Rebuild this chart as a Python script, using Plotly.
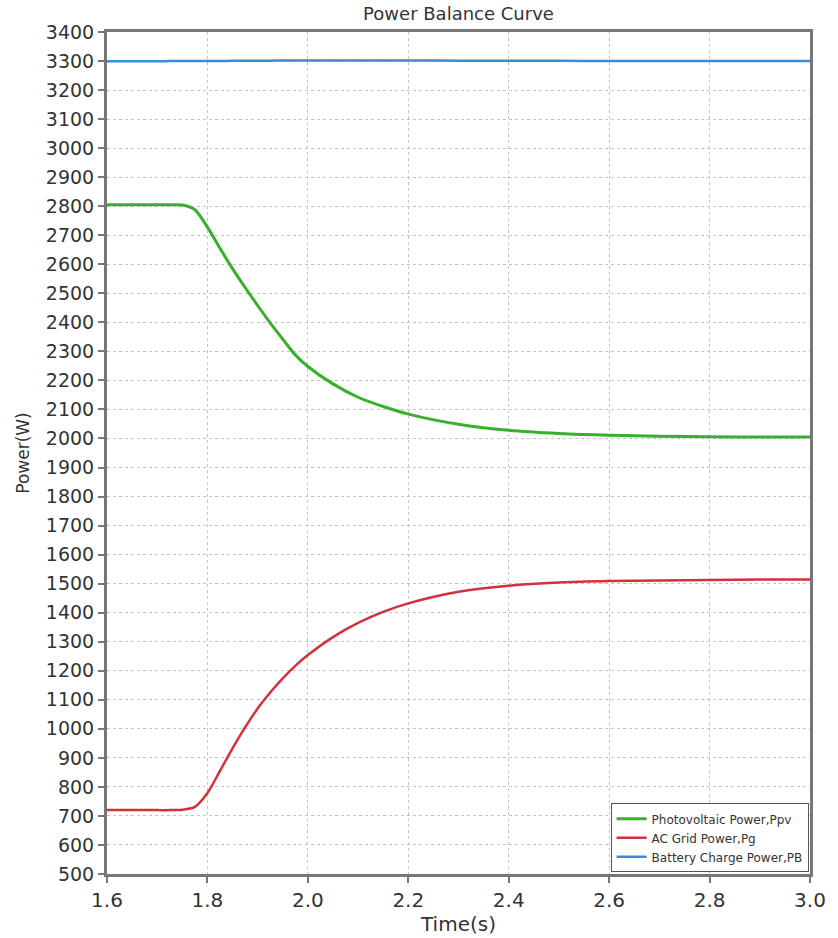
import plotly.graph_objects as go

# Simulation time (s)
time_s = [1.6, 1.7, 1.725, 1.75, 1.775, 1.8, 1.825, 1.85, 1.875, 1.9, 1.925, 1.95, 1.975,
          2.0, 2.05, 2.1, 2.15, 2.2, 2.3, 2.4, 2.5, 2.6, 2.7, 2.8, 2.9, 3.0]

# Photovoltaic power Ppv (W)
p_pv = [2805, 2805, 2805, 2804, 2788, 2728, 2655, 2585, 2520, 2458, 2398, 2342, 2288,
        2248, 2188, 2142, 2110, 2084, 2049, 2028, 2017, 2011, 2008, 2006, 2005, 2005]

# AC grid power Pg (W)
p_grid = [720, 720, 720, 721, 731, 779, 855, 933, 1005, 1070, 1125, 1174, 1217,
          1254, 1316, 1365, 1403, 1432, 1472, 1493, 1504, 1509, 1511, 1513, 1514, 1514]

# Battery charge power PB (W)
p_batt = [3299, 3299, 3300, 3300, 3300, 3300, 3300, 3301, 3301, 3301, 3301, 3302, 3302,
          3302, 3302, 3302, 3302, 3302, 3301, 3301, 3301, 3300, 3300, 3300, 3300, 3300]

x_ticks = [1.6, 1.8, 2.0, 2.2, 2.4, 2.6, 2.8, 3.0]
x_tick_labels = ["1.6", "1.8", "2.0", "2.2", "2.4", "2.6", "2.8", "3.0"]
y_ticks = list(range(500, 3401, 100))

font_family = "DejaVu Sans"
text_color = "#333333"
axis_color = "#777777"
grid_color = "#c4c4c4"

fig = go.Figure()
fig.add_trace(go.Scatter(x=time_s, y=p_pv, mode="lines", name="Photovoltaic Power,Ppv",
                         line=dict(color="#38b02c", width=3, shape="spline", smoothing=0.8)))
fig.add_trace(go.Scatter(x=time_s, y=p_grid, mode="lines", name="AC Grid Power,Pg",
                         line=dict(color="#d4303c", width=2.5, shape="spline", smoothing=0.8)))
fig.add_trace(go.Scatter(x=time_s, y=p_batt, mode="lines", name="Battery Charge Power,PB",
                         line=dict(color="#3a8ade", width=2.5, shape="spline", smoothing=0.8)))

fig.update_layout(
    width=838, height=938,
    margin=dict(l=107, r=18, t=32, b=52),
    paper_bgcolor="white", plot_bgcolor="white",
    font=dict(family=font_family, color=text_color),
    title=dict(text="Power Balance Curve", x=0.5, xref="paper", xanchor="center",
               y=0.985, yanchor="middle", font=dict(size=18, color=text_color)),
    showlegend=True,
    legend=dict(x=0.998, y=0.002, xanchor="right", yanchor="bottom",
                bgcolor="white", bordercolor="#555555", borderwidth=1,
                font=dict(size=12, color=text_color), tracegroupgap=0,
                itemwidth=30),
)

fig.update_xaxes(
    range=[1.6, 3.0], tickvals=x_ticks, ticktext=x_tick_labels,
    showgrid=True, gridcolor=grid_color, griddash="dot", gridwidth=1,
    showline=True, linecolor=axis_color, linewidth=3, mirror=True,
    ticks="outside", ticklen=6, tickcolor=axis_color, tickwidth=2,
    tickfont=dict(size=20, color=text_color),
    title=dict(text="Time(s)", font=dict(size=20, color=text_color), standoff=0),
    zeroline=False,
)
fig.update_yaxes(
    range=[500, 3400], tickvals=y_ticks,
    showgrid=True, gridcolor=grid_color, griddash="dot", gridwidth=1,
    showline=True, linecolor=axis_color, linewidth=3, mirror=True,
    ticks="outside", ticklen=6, tickcolor=axis_color, tickwidth=2,
    tickfont=dict(size=19, color=text_color),
    title=dict(text="Power(W)", font=dict(size=17, color=text_color), standoff=12),
    zeroline=False,
)

fig.write_html("out.html")
